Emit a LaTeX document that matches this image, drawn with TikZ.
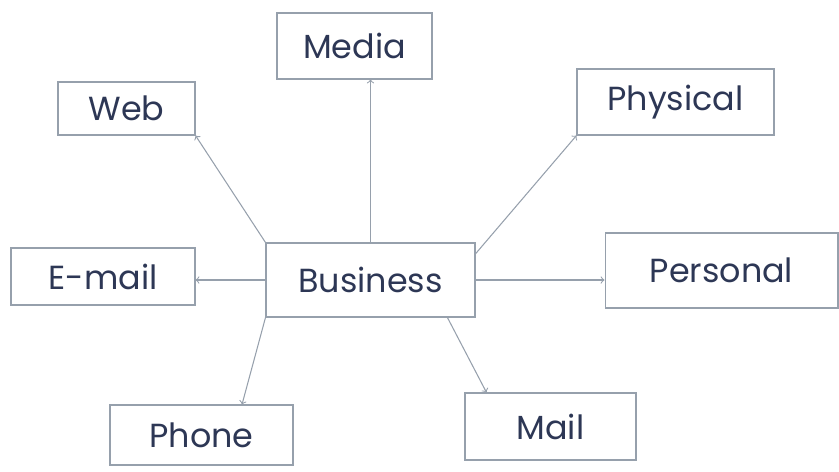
\documentclass[tikz,border=0pt]{standalone}
\usepackage{fontspec}
\setmainfont{Poppins}
\definecolor{pencil}{RGB}{150,160,172}
\definecolor{ink}{RGB}{45,55,85}
\begin{document}
\begin{tikzpicture}[x=0.02cm, y=-0.02cm,
        box/.style={rectangle, draw=pencil, line width=0.6pt, text=ink, inner sep=0pt,
            font=\fontsize{19}{22}\selectfont},
        link/.style={draw=pencil, line width=0.6pt, ->}]
            \useasboundingbox (0,0) rectangle (839,471);

            \node (business) at (370.5,280) [box, minimum width=4.18cm, minimum height=1.48cm] {Business};

            \node (media) at (354.5,46) [box, minimum width=3.1cm, minimum height=1.32cm] {Media};
            \node (web) at (126.5,108.5) [box, minimum width=2.74cm, minimum height=1.06cm] {Web};
            \node (physical) at (675.5,102) [box, minimum width=3.94cm, minimum height=1.32cm] {Physical};
            \node (email) at (103,276.5) [box, minimum width=3.68cm, minimum height=1.14cm] {E-mail};
            \node (personal) at (721.5,270.5) [box, minimum width=4.66cm, minimum height=1.5cm] {Personal};
            \node (phone) at (201.5,435) [box, minimum width=3.66cm, minimum height=1.2cm] {Phone};
            \node (mail) at (550.5,426.5) [box, minimum width=3.42cm, minimum height=1.34cm] {Mail};

            \draw[link] (business.north) -- (business.north |- media.south);
            \draw[link] (business.north west) -- (web.south east);
            \draw[link] (business.14) -- (physical.south west);
            \draw[link] (business.west) -- (business.west -| email.east);
            \draw[link] (business.east) -- (business.east -| personal.west);
            \draw[link] (business.south west) -- (phone.37);
            \draw[link] (business.-26) -- (mail.152);
        \end{tikzpicture}
\end{document}
